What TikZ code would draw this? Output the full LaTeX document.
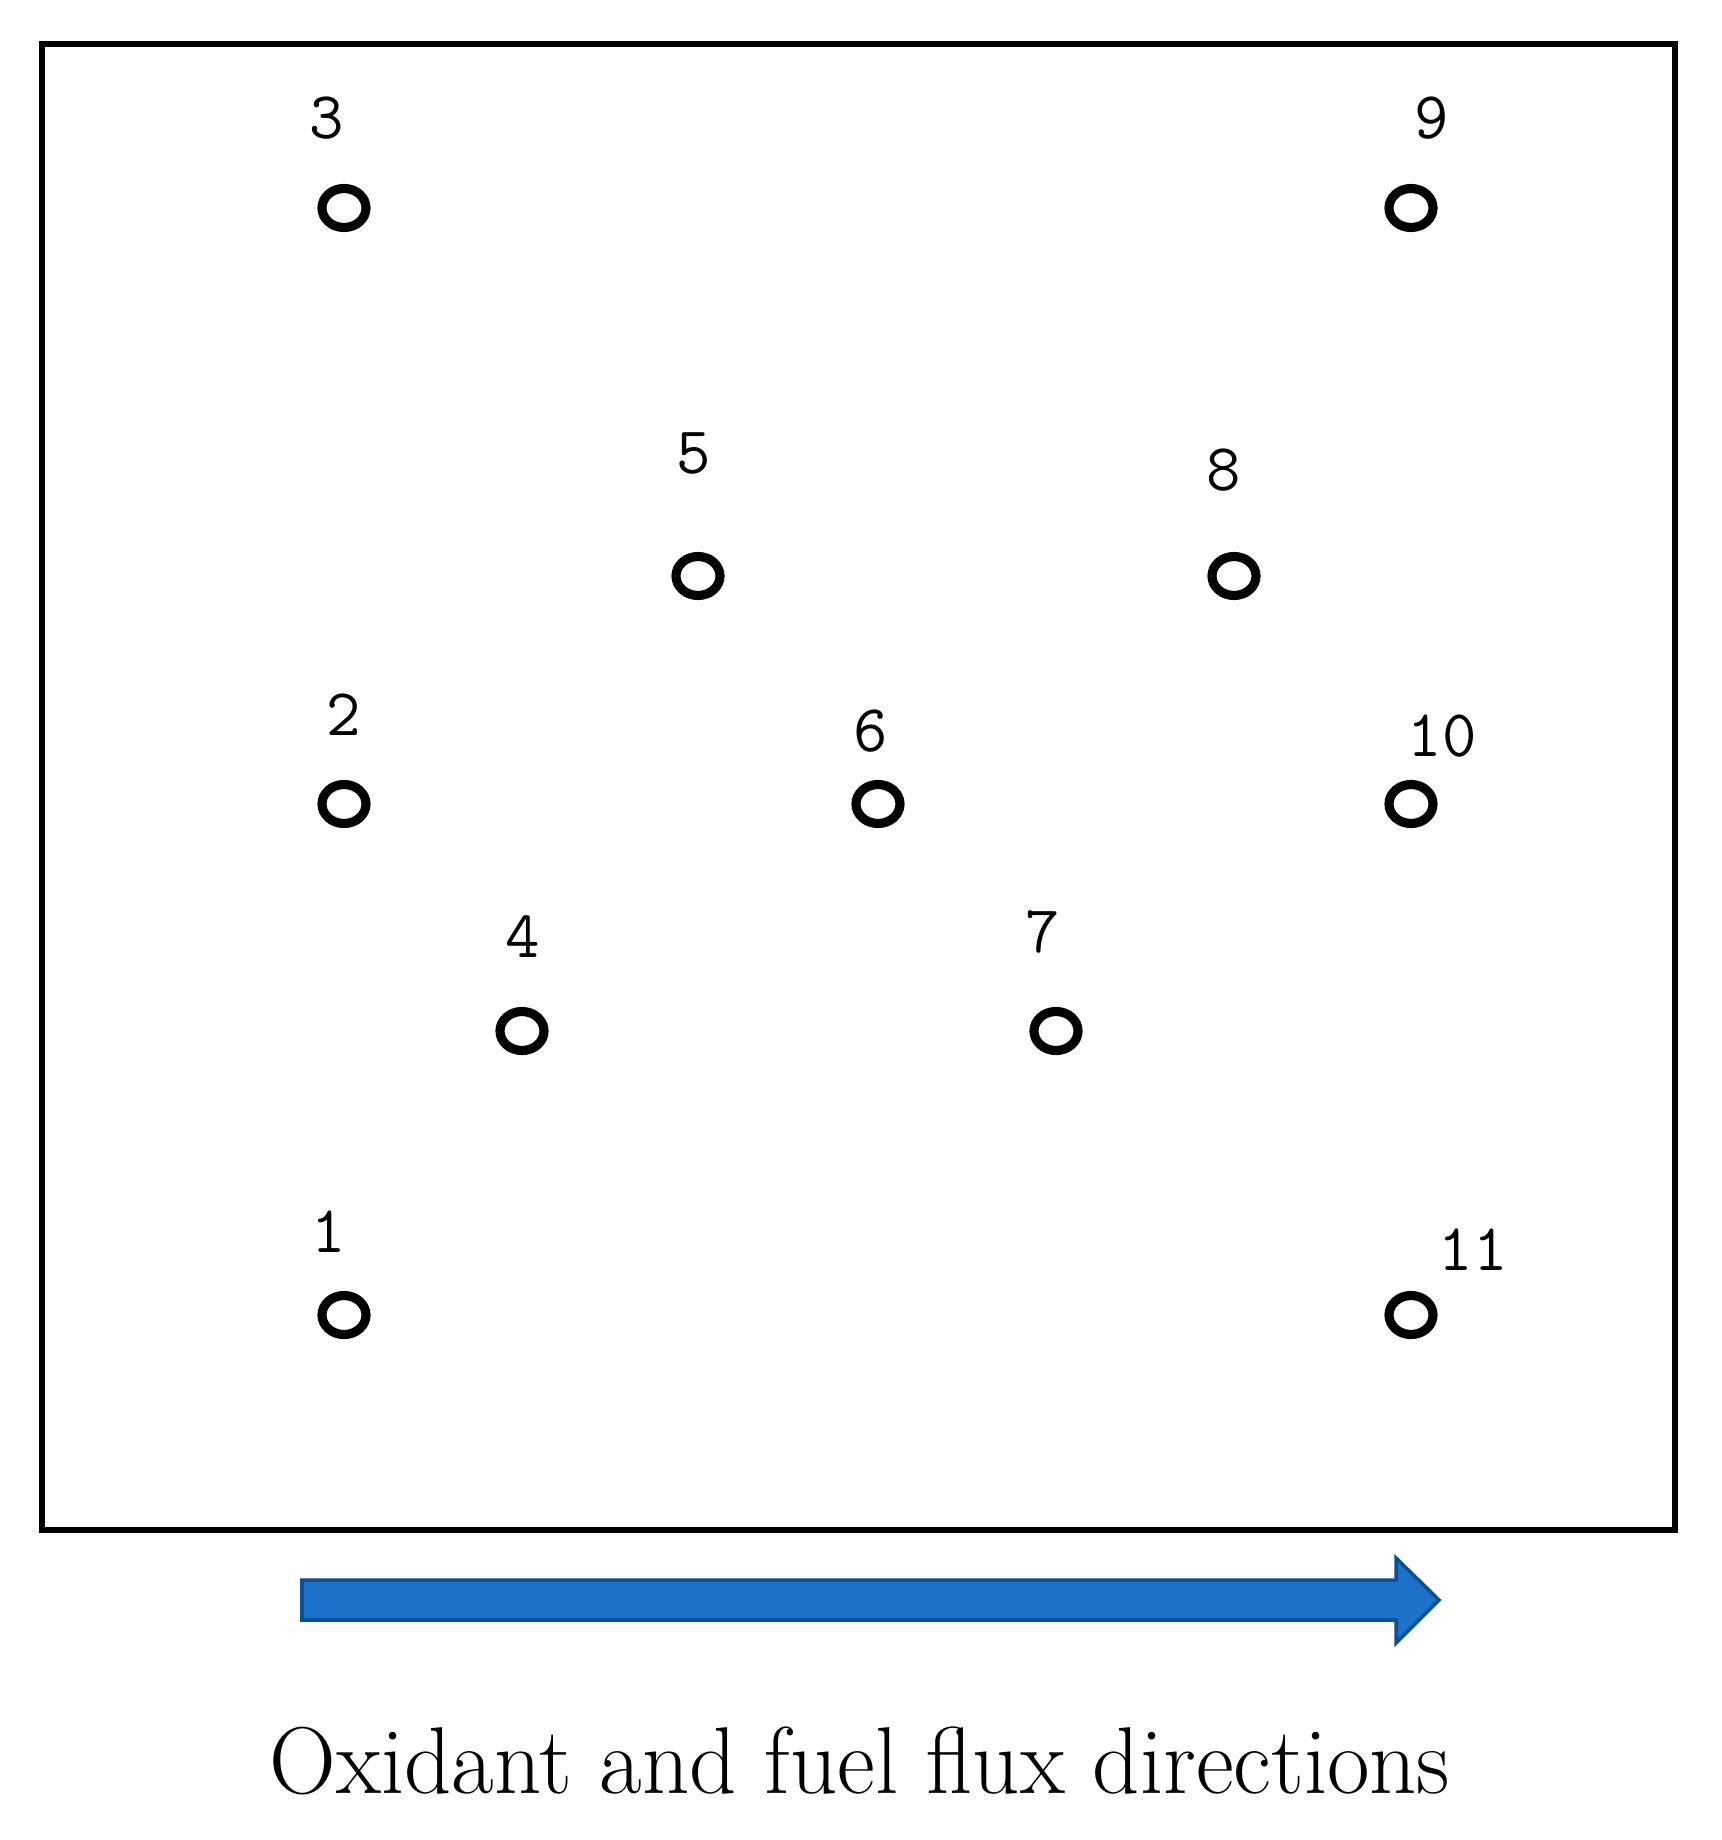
\documentclass[tikz,border=0pt]{standalone}
\usetikzlibrary{shapes.geometric, positioning}

\definecolor{fluxblue}{HTML}{1B72C8}
\definecolor{fluxedge}{HTML}{0B4F94}

\tikzset{
  hole/.style={ellipse, draw, line width=2.6pt, minimum width=0.44cm, minimum height=0.39cm, inner sep=0pt},
  num/.style={font=\ttfamily\fontsize{19}{19}\selectfont, inner sep=0pt}
}

\begin{document}
\begin{tikzpicture}[x=0.01cm, y=-0.01cm]
\useasboundingbox (0,0) rectangle (1722,1840);
\node[draw, line width=1.8pt, minimum width=16.32cm, minimum height=14.85cm, anchor=north west] (plate) at (39,41) {};

\node[hole] (h1) at (344,1315) {};
\node[hole] (h2) at (344,804) {};
\node[hole] (h3) at (344,208) {};
\node[hole] (h4) at (522,1031) {};
\node[hole] (h5) at (698,576) {};
\node[hole] (h6) at (878,804) {};
\node[hole] (h7) at (1056,1031) {};
\node[hole] (h8) at (1234,576) {};
\node[hole] (h9) at (1411,208) {};
\node[hole] (h10) at (1411,804) {};
\node[hole] (h11) at (1411,1315) {};

\node[num] (n1) at (329,1232) {1};
\node[num] (n2) at (344,715) {2};
\node[num] (n3) at (327,118) {3};
\node[num] (n4) at (523,937) {4};
\node[num] (n5) at (694,453) {5};
\node[num] (n6) at (871,731) {6};
\node[num] (n7) at (1043,932) {7};
\node[num] (n8) at (1224,470) {8};
\node[num] (n9) at (1432,118) {9};
\node[num] (n10) at (1442,736) {10};
\node[num] (n11) at (1473,1250) {11};

% flux arrow
\draw[fill=fluxblue, draw=fluxedge, line width=1pt]
  (302,1580) -- (1396,1580) -- (1396,1558) -- (1439,1600) -- (1396,1643) -- (1396,1620) -- (302,1620) -- cycle;

\node[anchor=base, font=\fontsize{27}{27}\selectfont, xscale=0.975, inner sep=0pt] (flux) at (860,1793) {Oxidant and fuel flux directions};
\end{tikzpicture}
\end{document}
